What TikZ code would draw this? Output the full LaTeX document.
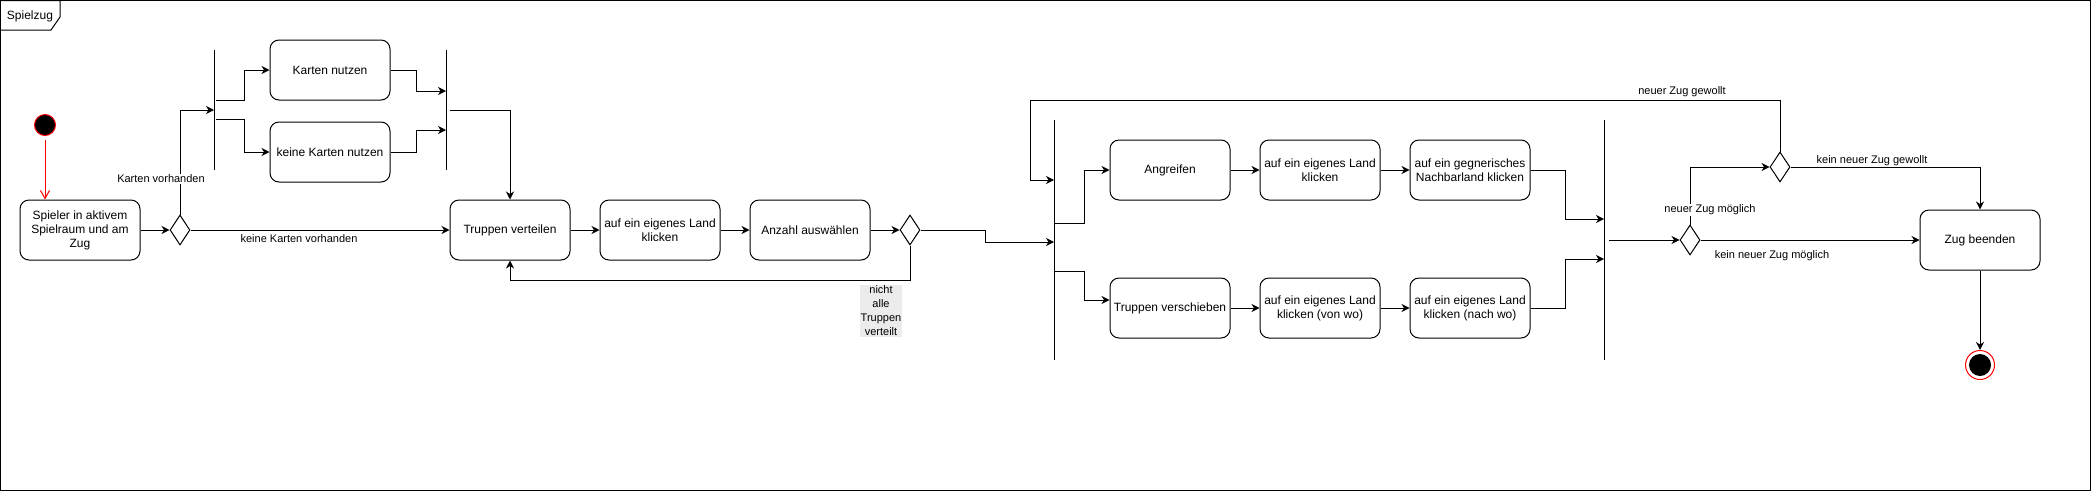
\documentclass[tikz,border=0pt]{standalone}
\usepackage{fontspec}
\setmainfont{Liberation Sans}
\usetikzlibrary{arrows.meta,shapes}
\tikzstyle{aktion}=[rectangle,rounded corners=9pt,draw=black,line width=1pt,minimum width=120pt,minimum height=60pt,align=center,inner sep=2pt,font=\fontsize{12}{14}\selectfont]
\tikzstyle{entscheid}=[diamond,draw=black,line width=1pt,minimum width=20pt,minimum height=30pt,inner sep=0pt]
\tikzstyle{balken}=[rectangle,fill=black,minimum width=1pt,inner sep=0pt]
\tikzstyle{fluss}=[-{Stealth[length=8pt,width=8pt,inset=2.5pt]}, line width=1pt]
\tikzstyle{lbl}=[font=\fontsize{11}{14}\selectfont,fill=white,inner sep=1pt,align=center]

\begin{document}
\begin{tikzpicture}[x=1pt,y=-1pt]
\useasboundingbox (0,0) rectangle (2091,491);
\draw[line width=1pt] (0.5,0.5) rectangle (2090.5,490.5);
\draw[line width=1pt] (0.5,0.5) -- (60,0.5) -- (60,17) -- (51,30) -- (0.5,30);
\node[font=\fontsize{12}{14}\selectfont] (titel) at (30,16) {Spielzug};

\node[circle,fill=black,draw=red,line width=1pt,minimum size=21pt,inner sep=0pt] (start) at (45,125) {};
\node[aktion] (spieler) at (80,230) {Spieler in aktivem\\Spielraum und am\\Zug};
\node[entscheid] (d1) at (180,230) {};
\node[balken,minimum height=120pt] (fork1) at (214,110) {};
\node[aktion] (karten) at (330,70) {Karten nutzen};
\node[aktion] (keine) at (330,152) {keine Karten nutzen};
\node[balken,minimum height=120pt] (join1) at (446,110) {};
\node[aktion] (verteilen) at (510,230) {Truppen verteilen};
\node[aktion] (land1) at (660,230) {auf ein eigenes Land\\klicken};
\node[aktion] (anzahl) at (810,230) {Anzahl auswählen};
\node[entscheid] (d2) at (910,230) {};
\node[balken,minimum height=240pt] (fork2) at (1054,240) {};
\node[aktion] (angreifen) at (1170,170) {Angreifen};
\node[aktion] (land2) at (1320,170) {auf ein eigenes Land\\klicken};
\node[aktion] (gegner) at (1470,170) {auf ein gegnerisches\\Nachbarland klicken};
\node[aktion] (verschieben) at (1170,308) {Truppen verschieben};
\node[aktion] (vonwo) at (1320,308) {auf ein eigenes Land\\klicken (von wo)};
\node[aktion] (nachwo) at (1470,308) {auf ein eigenes Land\\klicken (nach wo)};
\node[balken,minimum height=240pt] (join2) at (1604,240) {};
\node[entscheid] (d3) at (1690,240) {};
\node[entscheid] (d4) at (1780,167) {};
\node[aktion] (beenden) at (1980,240) {Zug beenden};
\node[circle,draw=red,fill=white,line width=1pt,minimum size=29pt,inner sep=0pt] (ende) at (1980,365) {};
\fill[black] (ende.center) circle (11pt);
\coordinate (schleife) at (1030,100);

% Start und Karten
\draw[-{Straight Barb[length=8pt,width=9pt]},red,line width=1pt] ([yshift=-4pt]start.south) -- (start |- spieler.north);
\draw[fluss] (spieler) -- (d1);
\draw[fluss] (d1.north) |- (fork1 |- 0,110);
\node[lbl] (lkv) at (161,179) {Karten vorhanden};
\draw[fluss] (d1) -- (verteilen);
\node[lbl,fill=none] (lkk) at (299,239) {keine Karten vorhanden};
\draw[fluss] (216,100) -- (244,100) |- (karten.west);
\draw[fluss] (216,119) -- (244,119) |- (keine.west);
\draw[fluss] (karten.east) -- ++(26,0) |- (join1 |- 0,91);
\draw[fluss] (keine.east) -- ++(26,0) |- (join1 |- 0,130);
\draw[fluss] (450,110) -| (verteilen.north);

% Truppen verteilen
\draw[fluss] (verteilen) -- (land1);
\draw[fluss] (land1) -- (anzahl);
\draw[fluss] (anzahl) -- (d2);
\draw[fluss] (d2.south) -- (d2.south |- 0,280) -| (verteilen.south);
\node[lbl,fill=black!8,inner sep=0.5pt] (lnt) at (881,311) {nicht\\alle\\Truppen\\verteilt};
\draw[fluss] (d2.east) -- ++(65,0) |- (fork2 |- 0,242);

% Angreifen / Verschieben
\draw[fluss] (fork2 |- 0,223) -- ++(30,0) |- (angreifen.west);
\draw[fluss] (fork2 |- 0,271) -- ++(30,0) |- (verschieben.west |- 0,300);
\draw[fluss] (angreifen) -- (land2);
\draw[fluss] (land2) -- (gegner);
\draw[fluss] (verschieben) -- (vonwo);
\draw[fluss] (vonwo) -- (nachwo);
\draw[fluss] (gegner.east) -- ++(35,0) |- (join2 |- 0,219);
\draw[fluss] (nachwo.east) -- ++(35,0) |- (join2 |- 0,259);

% Zugende
\draw[fluss] (1609,240) -- (d3);
\draw[fluss] (d3.north) |- (d4.west);
\node[lbl] (lnm) at (1710,210) {neuer Zug möglich};
\draw[fluss] (d3) -- (beenden);
\node[lbl,fill=none] (lkm) at (1772,256) {kein neuer Zug möglich};
\draw[fluss] (d4.east) -| (beenden.north);
\node[lbl] (lkg) at (1872,161) {kein neuer Zug gewollt};
\draw[fluss] (d4.north) |- (schleife) |- (fork2 |- 0,180);
\node[lbl,fill=none] (lng) at (1682,92) {neuer Zug gewollt};
\draw[fluss] (beenden) -- (ende);
\end{tikzpicture}
\end{document}
